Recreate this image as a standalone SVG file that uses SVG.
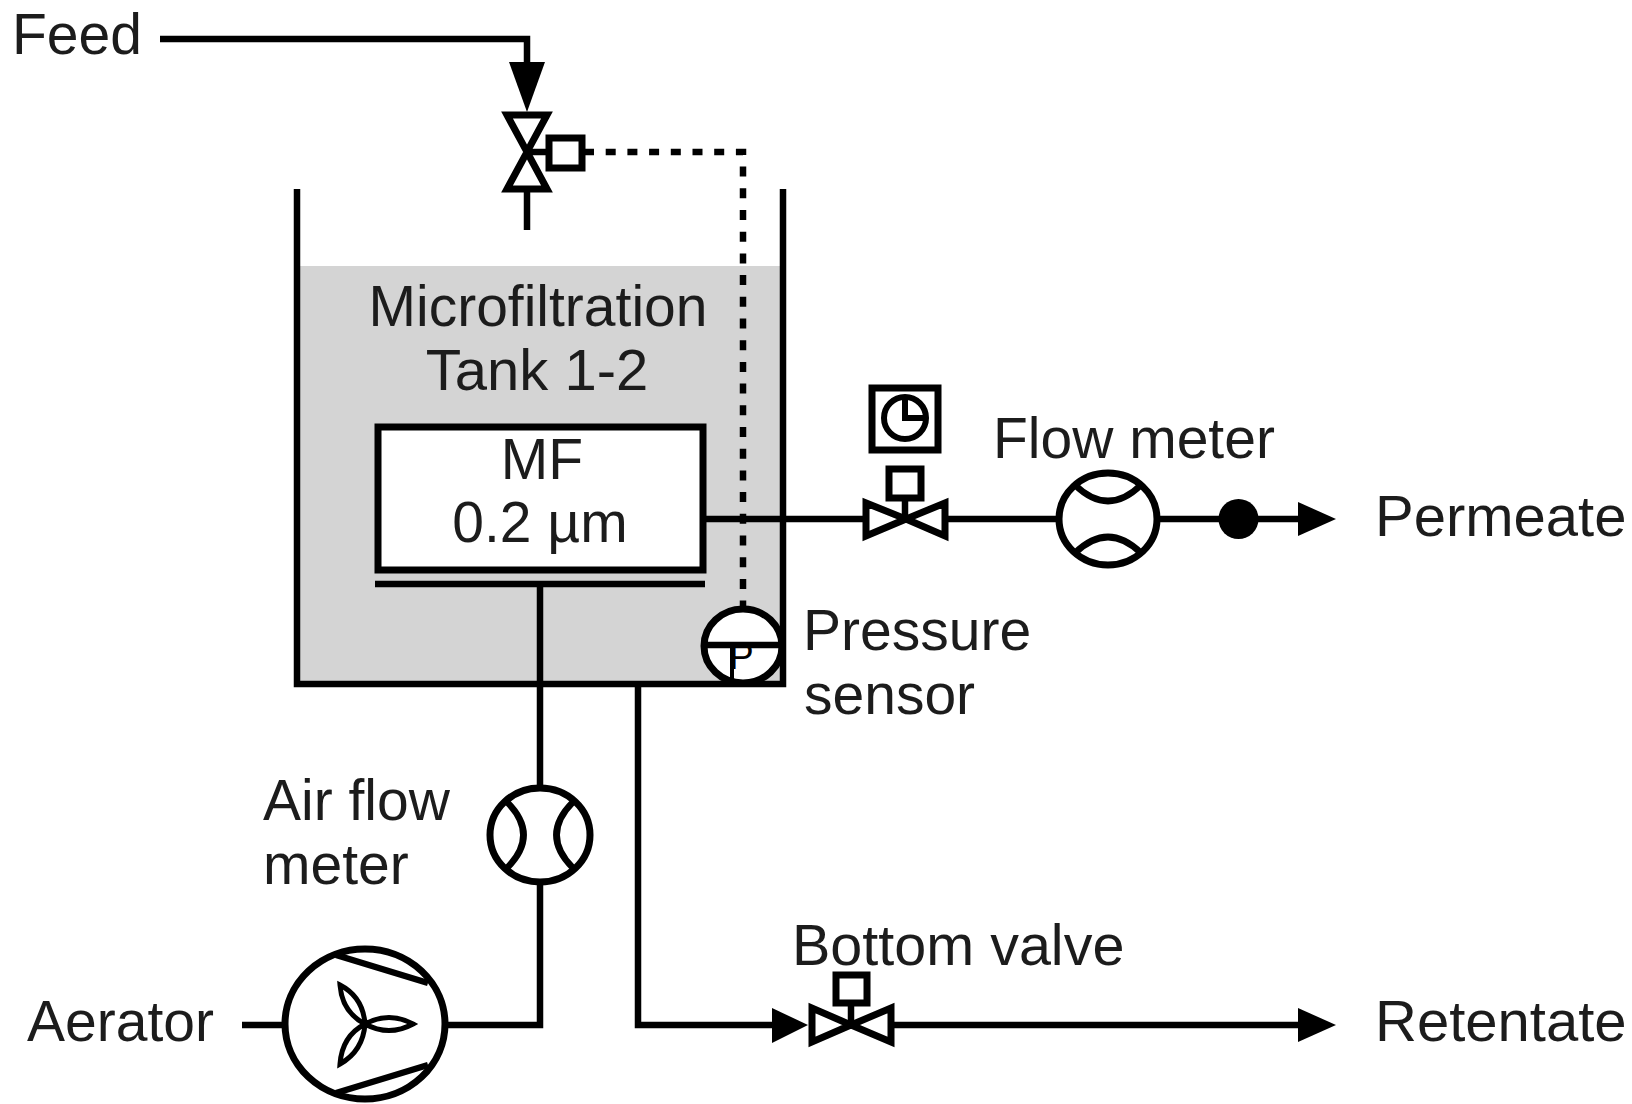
<svg xmlns="http://www.w3.org/2000/svg" width="1632" height="1104" viewBox="0 0 1632 1104">
<style>
text{font-family:"Liberation Sans",Arial,sans-serif;font-size:57px;fill:#1c1c1c}
.b{font-size:58px}
.m{text-anchor:middle}
.l{fill:none;stroke:#000;stroke-width:6.500;stroke-linejoin:miter}
.s{fill:#fff;stroke:#000;stroke-width:7;stroke-linejoin:miter}
.t{fill:none;stroke:#000;stroke-width:6}
.a{fill:#000;stroke:none}
</style>
<rect width="1632" height="1104" fill="#fff"/>
<g id="tank">
<rect x="297" y="266" width="486" height="418" fill="#d4d4d4"/>
<path class="l" d="M297 189V684H783V189"/>
<text class="m" x="538" y="326">Microfiltration</text>
<text class="m b" x="537" y="390">Tank 1-2</text>
</g>
<g id="connectors">
<path class="l" d="M160 39H527V66"/>
<path class="a" d="M509 62H545L527 112Z"/>
<path class="l" d="M527 191V230"/>
<path class="l" d="M584 152H743V608" stroke-dasharray="10 11.7"/>
<path class="l" d="M703 519H865"/>
<path class="l" d="M947 519H1060"/>
<path class="l" d="M1155 519H1300"/>
<path class="a" d="M1298 502L1336 519L1298 536Z"/>
<path class="l" d="M540 584V787"/>
<path class="l" d="M540 885V1025H445"/>
<path class="l" d="M242 1025H285"/>
<path class="l" d="M638 684V1025H775"/>
<path class="a" d="M772 1008L808 1025L772 1043Z"/>
<path class="l" d="M893 1025H1300"/>
<path class="a" d="M1298 1008L1336 1025L1298 1042Z"/>
</g>
<g id="feed-valve">
<path class="s" d="M507 115H547L527 152ZM527 152L547 189H507Z"/>
<path class="l" d="M527 152H550"/>
<rect class="s" x="549" y="138" width="33" height="30"/>
</g>
<g id="mf-module">
<rect class="s" x="378" y="427" width="325" height="143"/>
<path class="l" d="M375 584H705"/>
<text class="m" x="542" y="479">MF</text>
<text class="m" x="540" y="542">0.2 µm</text>
</g>
<g id="timer-valve">
<rect class="s" x="872" y="388" width="66" height="62"/>
<circle class="t" cx="905" cy="418" r="21"/>
<path class="t" d="M905 397V418H927"/>
<rect class="s" x="889" y="469" width="32" height="29"/>
<path class="l" d="M905 498V519"/>
<path class="s" d="M866 503V536L906 519ZM945 503V536L906 519Z"/>
</g>
<g id="flow-meter">
<ellipse class="s" cx="1108" cy="519" rx="49" ry="46"/>
<path class="l" d="M1075 485Q1108 517 1141 485M1075 553Q1108 521 1141 553"/>
<text x="993" y="458">Flow meter</text>
</g>
<g id="permeate-point">
<circle class="a" cx="1238.500" cy="519" r="20"/>
<text class="b" x="1375" y="536">Permeate</text>
</g>
<g id="pressure-sensor">
<ellipse class="s" cx="743" cy="646" rx="39" ry="37"/>
<path class="l" d="M701 645H785"/>
<path class="t" d="M732 645V682" style="stroke-width:4"/>
<text x="729" y="669" style="font-size:37px;fill:#000">P</text>
<text x="803" y="650">Pressure</text>
<text x="804" y="714">sensor</text>
</g>
<g id="air-flow-meter">
<ellipse class="s" cx="540" cy="835" rx="50" ry="47"/>
<path class="l" d="M507 802Q540 835 507 868M573 802Q540 835 573 868"/>
<text x="263" y="820">Air flow</text>
<text x="263" y="884">meter</text>
</g>
<g id="aerator">
<ellipse class="s" cx="365" cy="1024" rx="80" ry="75"/>
<path class="l" d="M336 955L428 983M336 1093L428 1065"/>
<path class="t" style="stroke-width:5" d="M365 1024Q389 1011 413 1024Q389 1037 365 1024ZM365 1024Q363 997 340 985Q342 1012 365 1024ZM365 1024Q342 1036 340 1064Q363 1051 365 1024Z"/>
<text x="27" y="1041">Aerator</text>
</g>
<g id="bottom-valve">
<rect class="s" x="836" y="975" width="31" height="28"/>
<path class="l" d="M851 1003V1025"/>
<path class="s" d="M812 1008V1042L851 1025ZM891 1008V1042L851 1025Z"/>
<text x="792" y="965" style="font-size:57.500px">Bottom valve</text>
</g>
<g id="labels">
<text x="12" y="54">Feed</text>
<text class="b" x="1375" y="1041">Retentate</text>
</g>
</svg>
